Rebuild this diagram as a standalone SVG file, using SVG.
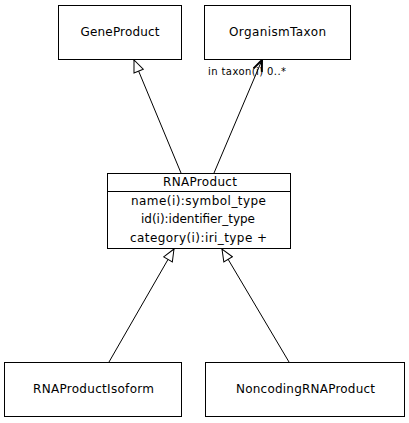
<svg xmlns="http://www.w3.org/2000/svg" width="409" height="423" viewBox="0 0 409 423">
<style>
.box{fill:#fff;stroke:#000;stroke-width:1}
.t{font-family:"DejaVu Sans",sans-serif;font-size:12px;text-anchor:middle;dominant-baseline:central;fill:#000}
.lbl{font-family:"DejaVu Sans",sans-serif;font-size:10px;fill:#000}
.e{stroke:#000;stroke-width:1;fill:none}
</style>
<defs>
<marker id="gen" markerWidth="14" markerHeight="12" refX="13" refY="6" orient="auto" markerUnits="userSpaceOnUse">
<path d="M1,1 L13,6 L1,11 Z" fill="#fff" stroke="#000" stroke-width="1"/>
</marker>
<marker id="vee" markerWidth="14" markerHeight="12" refX="12" refY="6" orient="auto" markerUnits="userSpaceOnUse">
<path d="M1,1.5 L12,6 L1,10.5" fill="none" stroke="#000" stroke-width="2"/>
</marker>
</defs>
<rect width="409" height="423" fill="#fff"/>
<g id="connectors">
<line class="e" x1="181" y1="173" x2="134" y2="60" marker-end="url(#gen)"/>
<line class="e" x1="214" y1="173" x2="262" y2="60" marker-end="url(#vee)"/>
<text class="lbl" x="208" y="75" textLength="78" lengthAdjust="spacing">in taxon(i) 0..*</text>
<line class="e" x1="109" y1="362" x2="174" y2="249" marker-end="url(#gen)"/>
<line class="e" x1="289" y1="362" x2="222" y2="249" marker-end="url(#gen)"/>
</g>
<g id="GeneProduct">
<rect class="box" x="58.5" y="5.5" width="123" height="54"/>
<text class="t" x="120" y="32" textLength="79" lengthAdjust="spacing">GeneProduct</text>
</g>
<g id="OrganismTaxon">
<rect class="box" x="204.5" y="5.5" width="146" height="54"/>
<text class="t" x="277.5" y="32" textLength="97" lengthAdjust="spacing">OrganismTaxon</text>
</g>
<g id="RNAProduct">
<rect class="box" x="107.5" y="173.5" width="183" height="75"/>
<line class="e" x1="107.5" y1="191.5" x2="290.5" y2="191.5"/>
<text class="t" x="200" y="182" textLength="74" lengthAdjust="spacing">RNAProduct</text>
<text class="t" x="198.5" y="201" textLength="135" lengthAdjust="spacing">name(i):symbol_type</text>
<text class="t" x="198" y="219" textLength="114" lengthAdjust="spacing">id(i):identifier_type</text>
<text class="t" x="198.5" y="238" textLength="137" lengthAdjust="spacing">category(i):iri_type +</text>
</g>
<g id="RNAProductIsoform">
<rect class="box" x="4.5" y="362.5" width="177" height="54"/>
<text class="t" x="93.5" y="389" textLength="121" lengthAdjust="spacing">RNAProductIsoform</text>
</g>
<g id="NoncodingRNAProduct">
<rect class="box" x="205.5" y="362.5" width="199" height="54"/>
<text class="t" x="305.5" y="389" textLength="139" lengthAdjust="spacing">NoncodingRNAProduct</text>
</g>
</svg>
